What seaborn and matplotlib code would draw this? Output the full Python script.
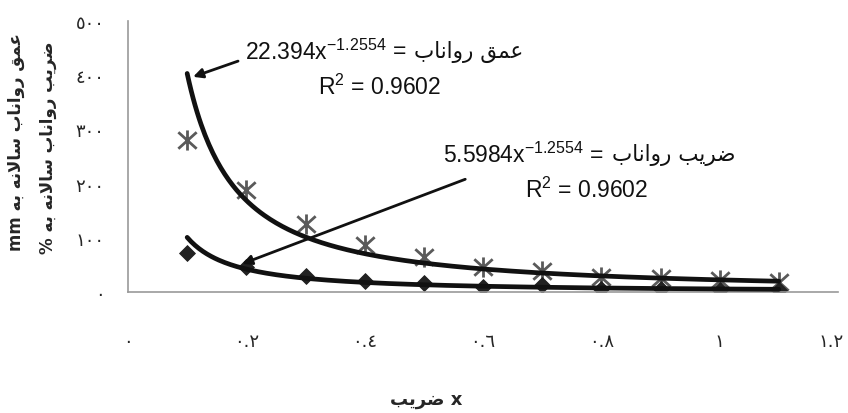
import numpy as np
import pandas as pd
import matplotlib
matplotlib.use("Agg")
import matplotlib.pyplot as plt
import matplotlib.transforms as mtransforms
from matplotlib.path import Path
import seaborn as sns

# ---------------- data ----------------
x_vals = [0.1, 0.2, 0.3, 0.4, 0.5, 0.6, 0.7, 0.8, 0.9, 1.0, 1.1]
depth_mm = [280, 188, 125, 87, 64, 47, 38, 27, 25, 22, 19]
coef_pct = [72, 47, 30, 20, 16, 9, 12, 5, 5, 3, 3]
# power trendlines shown on the chart: a * x^b
depth_fit = [22.394, -1.2554]
coef_fit = [5.5984, -1.2554]
r2_depth = 0.9602
r2_coef = 0.9602
x_ticks = [0, 0.2, 0.4, 0.6, 0.8, 1.0, 1.2]
x_tick_labels = ["٠", "٠.٢", "٠.٤", "٠.٦", "٠.٨", "١", "١.٢"]
y_ticks = [0, 100, 200, 300, 400, 500]
y_tick_labels = ["٠", "١٠٠", "٢٠٠", "٣٠٠", "٤٠٠", "٥٠٠"]
ylabel_1 = "عمق رواناب سالانه به"
ylabel_2 = "ضریب رواناب سالانه به"
xlabel_word = "ضریب"
name_depth = "عمق رواناب"
name_coef = "ضریب رواناب"

# ---------------- minimal Arabic/Persian shaping for display ----------------
FORMS = {  # iso, fin, ini, med
    "ا": ("\uFE8D", "\uFE8E", None, None),
    "ب": ("\uFE8F", "\uFE90", "\uFE91", "\uFE92"),
    "ر": ("\uFEAD", "\uFEAE", None, None),
    "و": ("\uFEED", "\uFEEE", None, None),
    "ن": ("\uFEE5", "\uFEE6", "\uFEE7", "\uFEE8"),
    "ع": ("\uFEC9", "\uFECA", "\uFECB", "\uFECC"),
    "م": ("\uFEE1", "\uFEE2", "\uFEE3", "\uFEE4"),
    "ق": ("\uFED5", "\uFED6", "\uFED7", "\uFED8"),
    "ض": ("\uFEBD", "\uFEBE", "\uFEBF", "\uFEC0"),
    "ی": ("\uFBFC", "\uFBFD", "\uFBFE", "\uFBFF"),
    "س": ("\uFEB1", "\uFEB2", "\uFEB3", "\uFEB4"),
    "ل": ("\uFEDD", "\uFEDE", "\uFEDF", "\uFEE0"),
    "ه": ("\uFEE9", "\uFEEA", "\uFEEB", "\uFEEC"),
}
LAMALEF = ("\uFEFB", "\uFEFC")


def dual(c):
    return c in FORMS and FORMS[c][2] is not None


def shape_word(w):
    units = []
    i = 0
    while i < len(w):
        if w[i] == "ل" and i + 1 < len(w) and w[i + 1] == "ا":
            units.append("LA")
            i += 2
        else:
            units.append(w[i])
            i += 1
    out = []
    for k, u in enumerate(units):
        prev = units[k - 1] if k > 0 else None
        nxt = units[k + 1] if k + 1 < len(units) else None
        cp = prev is not None and prev != "LA" and dual(prev)
        if u == "LA":
            out.append(LAMALEF[1] if cp else LAMALEF[0])
            continue
        if u not in FORMS:
            out.append(u)
            continue
        cn = nxt is not None and dual(u)
        iso, fin, ini, med = FORMS[u]
        if cp and cn:
            out.append(med)
        elif cp:
            out.append(fin)
        elif cn:
            out.append(ini)
        else:
            out.append(iso)
    return "".join(out)


def rtl(s):
    shaped = " ".join(shape_word(w) for w in s.split(" "))
    return shaped[::-1]


# star marker: X plus a vertical bar (Excel style)
STAR = Path([(-1, -0.9), (1, 0.9), (-1, 0.9), (1, -0.9), (0, -1.1), (0, 1.1)],
            [Path.MOVETO, Path.LINETO, Path.MOVETO, Path.LINETO, Path.MOVETO, Path.LINETO])

# ---------------- figure ----------------
sns.set_theme(style="white")
plt.rcParams["font.family"] = ["Liberation Sans", "DejaVu Sans"]
plt.rcParams["mathtext.default"] = "regular"

fig = plt.figure(figsize=(8.48, 4.14), dpi=100)
ax = fig.add_axes([128 / 848, 1 - 293 / 414, 710 / 848, 271 / 414])

df = pd.DataFrame({"x": x_vals, "depth": depth_mm, "coef": coef_pct})

sns.scatterplot(data=df, x="x", y="depth", ax=ax, marker=STAR, s=210,
                color="#5a5a5a", linewidth=2.0, edgecolor="#5a5a5a", zorder=2, legend=False)
sns.scatterplot(data=df, x="x", y="coef", ax=ax, marker="D", s=65,
                color="#222222", edgecolor="#222222", zorder=2, legend=False)

xf = np.linspace(min(x_vals), max(x_vals), 300)
fit_df = pd.DataFrame({"x": xf,
                       "depth": depth_fit[0] * xf ** depth_fit[1],
                       "coef": coef_fit[0] * xf ** coef_fit[1]})
sns.lineplot(data=fit_df, x="x", y="depth", ax=ax, color="#111111", lw=3.4, zorder=3)
sns.lineplot(data=fit_df, x="x", y="coef", ax=ax, color="#111111", lw=3.4, zorder=3)

ax.set_xlim(0, 1.2)
ax.set_ylim(0, 500)
ax.set_xticks(x_ticks)
ax.set_xticklabels(x_tick_labels, family=["DejaVu Sans"], fontsize=13)
ax.set_yticks(y_ticks)
ax.set_yticklabels(y_tick_labels, family=["DejaVu Sans"], fontsize=13)
ax.tick_params(axis="x", direction="out", length=5, width=1, color="#999999", pad=24)
ax.tick_params(axis="y", direction="out", length=5, width=1, color="#999999", pad=12)
ax.set_xlabel("")
ax.set_ylabel("")
for s in ["top", "right"]:
    ax.spines[s].set_visible(False)
for s in ["left", "bottom"]:
    ax.spines[s].set_color("#999999")
    ax.spines[s].set_linewidth(1.2)

# keep the last x tick label inside the canvas
last = ax.get_xticklabels()[-1]
last.set_transform(last.get_transform() +
                   mtransforms.ScaledTranslation(-5 / 72, 0, fig.dpi_scale_trans))

# arrows
ax.annotate("", xy=(0.11, 397), xytext=(0.186, 426),
            arrowprops=dict(arrowstyle="-|>", lw=2, color="#111111", mutation_scale=14,
                            shrinkA=0, shrinkB=0), zorder=5)
ax.annotate("", xy=(0.193, 52), xytext=(0.57, 208),
            arrowprops=dict(arrowstyle="-|>", lw=2, color="#111111", mutation_scale=14,
                            shrinkA=0, shrinkB=0), zorder=5)

fig.canvas.draw()
renderer = fig.canvas.get_renderer()
H = 414


def row(x_px, y_px, pieces):
    # pieces: (text, size, family, gap_after_px)
    cur = x_px
    for txt, size, fam, gap in pieces:
        t = fig.text(cur / 848, 1 - y_px / H, txt, fontsize=size, family=fam,
                     ha="left", va="center", color="#111111")
        bb = t.get_window_extent(renderer)
        cur += bb.width + gap
    return cur


FS = 16.5
row(245, 52, [("%.3fx$^{%s}$" % (depth_fit[0], "%.4f" % depth_fit[1]), FS, ["Liberation Sans"], 6),
              ("=", FS, ["Liberation Sans"], 8),
              (rtl(name_depth), FS - 1, ["DejaVu Sans"], 0)])
row(318, 87, [("R$^{2}$ = %.4f" % r2_depth, FS, ["Liberation Sans"], 0)])
row(443, 155, [("%.4fx$^{%s}$" % (coef_fit[0], "%.4f" % coef_fit[1]), FS, ["Liberation Sans"], 6),
               ("=", FS, ["Liberation Sans"], 8),
               (rtl(name_coef), FS - 1, ["DejaVu Sans"], 0)])
row(525, 190, [("R$^{2}$ = %.4f" % r2_coef, FS, ["Liberation Sans"], 0)])

# axis titles
fig.text(16 / 848, 1 - 142 / H, "mm " + rtl(ylabel_1), rotation=90, fontsize=12,
         fontweight="bold", family=["DejaVu Sans"], ha="center", va="center")
fig.text(48 / 848, 1 - 148 / H, "% " + rtl(ylabel_2), rotation=90, fontsize=12,
         fontweight="bold", family=["DejaVu Sans"], ha="center", va="center")
fig.text(426 / 848, 1 - 400 / H, rtl(xlabel_word) + " x", fontsize=13,
         fontweight="bold", family=["DejaVu Sans"], ha="center", va="center")

fig.savefig("out.png", dpi=100)
